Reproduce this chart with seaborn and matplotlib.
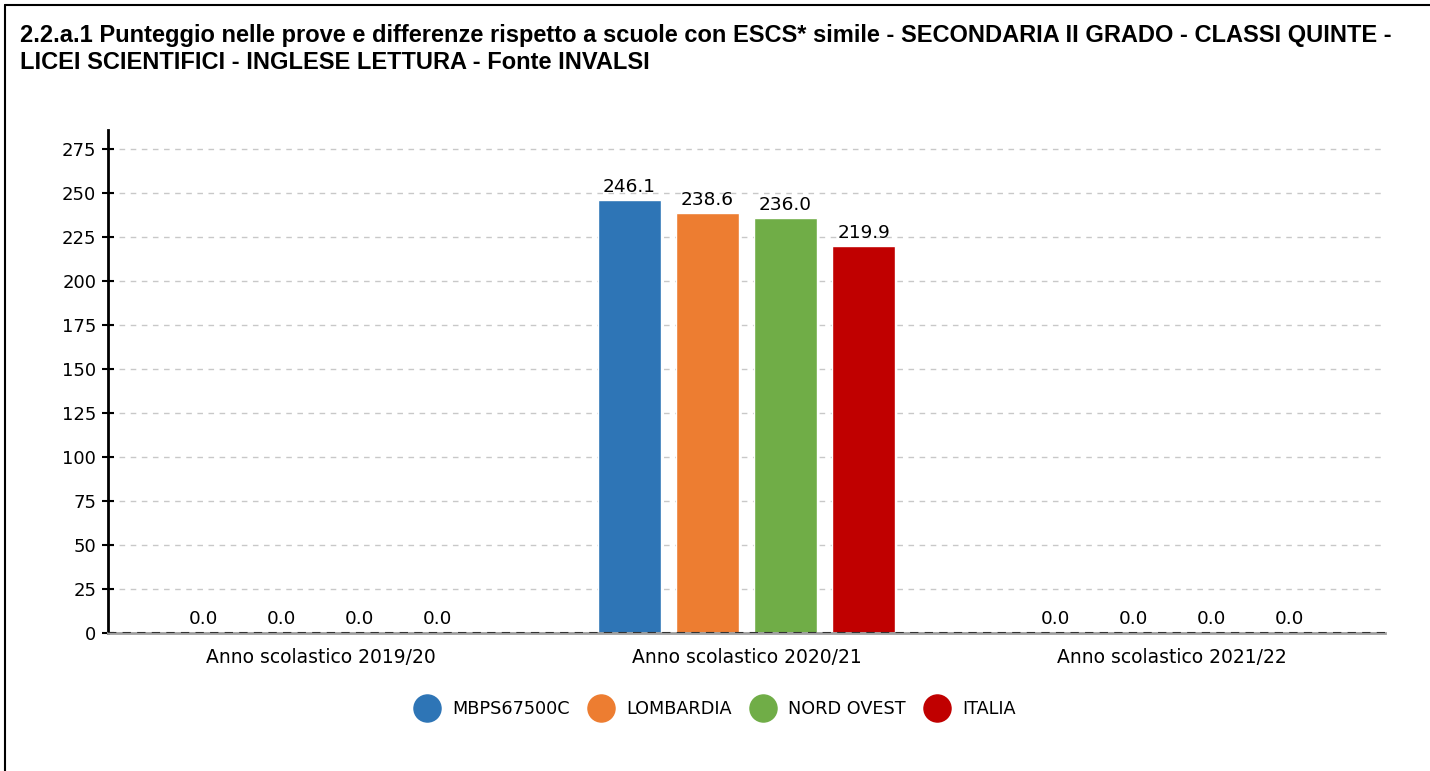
import numpy as np
import pandas as pd
import seaborn as sns
import matplotlib.pyplot as plt
from matplotlib.lines import Line2D

years = ["Anno scolastico 2019/20", "Anno scolastico 2020/21", "Anno scolastico 2021/22"]
groups = ["MBPS67500C", "LOMBARDIA", "NORD OVEST", "ITALIA"]
scores_mbps = [0.0, 246.1, 0.0]
scores_lombardia = [0.0, 238.6, 0.0]
scores_nordovest = [0.0, 236.0, 0.0]
scores_italia = [0.0, 219.9, 0.0]
colors = ["#2E75B6", "#ED7D31", "#70AD47", "#C00000"]
yticks = [0, 25, 50, 75, 100, 125, 150, 175, 200, 225, 250, 275]

title = ("2.2.a.1 Punteggio nelle prove e differenze rispetto a scuole con ESCS* simile - "
         "SECONDARIA II GRADO - CLASSI QUINTE -\nLICEI SCIENTIFICI - INGLESE LETTURA - Fonte INVALSI")

rows = []
for g, vals in zip(groups, [scores_mbps, scores_lombardia, scores_nordovest, scores_italia]):
    for y, v in zip(years, vals):
        rows.append({"anno": y, "gruppo": g, "punteggio": v})
df = pd.DataFrame(rows)

sns.set_style("white")
plt.rcParams["font.family"] = ["DejaVu Sans"]
plt.rcParams["text.color"] = "black"
plt.rcParams["xtick.color"] = "black"
plt.rcParams["ytick.color"] = "black"

fig = plt.figure(figsize=(14.3, 7.71), dpi=100)
ax = fig.add_axes([108 / 1430, 1 - 633 / 771, (1385 - 108) / 1430, (633 - 130) / 771])

sns.barplot(data=df, x="anno", y="punteggio", hue="gruppo", hue_order=groups,
            palette=colors, width=0.733, gap=0.18, ax=ax, legend=False,
            saturation=1)

for c in ax.containers:
    for p in c.patches:
        if p.get_height() == 0:
            p.set_height(0.6)
    ax.bar_label(c, labels=[f"{v:.1f}" for v in c.datavalues], padding=3, fontsize=13.3)

ax.set_ylim(0, 286)
ax.set_xlim(-0.5, 2.5)
ax.set_yticks(yticks)
ax.yaxis.grid(True, linestyle=(0, (4, 4)), color="#c8c8c8", linewidth=1)
ax.set_axisbelow(True)
ax.set_xlabel("")
ax.set_ylabel("")
ax.tick_params(axis="y", length=9, width=1.5, labelsize=13, left=True,
               direction="inout", color="black", pad=4)
ax.tick_params(axis="x", length=0, labelsize=13.5, pad=11)

for s in ["top", "right"]:
    ax.spines[s].set_visible(False)
ax.spines["left"].set_linewidth(2)
ax.spines["left"].set_color("black")
ax.spines["bottom"].set_color("#a0a0a0")
ax.spines["bottom"].set_linewidth(2)
ax.axhline(0, color="#333333", linestyle=(0, (4, 3)), linewidth=1.5, zorder=5)

handles = [Line2D([], [], marker="o", linestyle="", markersize=19.5,
                  markerfacecolor=c, markeredgecolor=c) for c in colors]
fig.legend(handles, groups, loc="center", bbox_to_anchor=(717 / 1430, 1 - 709 / 771),
           ncol=4, frameon=False, fontsize=12.7, handlelength=1.0,
           handletextpad=0.95, columnspacing=1.25)

fig.text(20 / 1430, 1 - 24 / 771, title, fontsize=17, fontweight="bold", va="top", ha="left",
         family=["Liberation Sans", "DejaVu Sans"], linespacing=1.2)

# frame on left and top only
fig.add_artist(Line2D([4.5 / 1430, 4.5 / 1430], [0, 1 - 5 / 771], transform=fig.transFigure,
                      color="black", linewidth=1.5))
fig.add_artist(Line2D([4.5 / 1430, 1], [1 - 5 / 771, 1 - 5 / 771], transform=fig.transFigure,
                      color="black", linewidth=1.5))

fig.savefig("out.png", dpi=100)
